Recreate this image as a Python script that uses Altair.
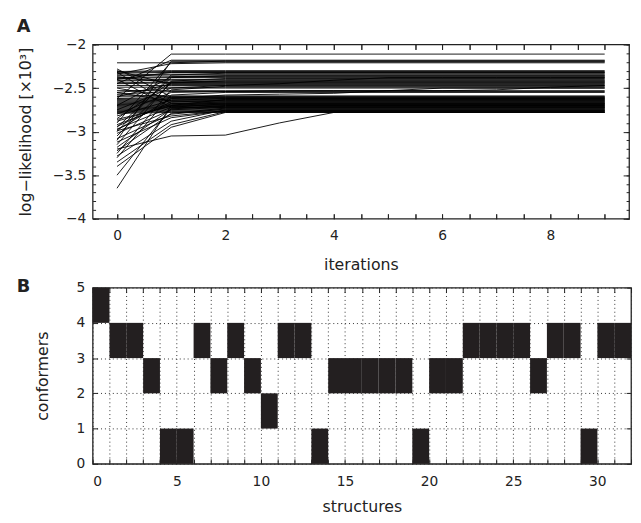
import altair as alt
import pandas as pd

# ---------------- Panel A: log-likelihood traces ----------------
# value at iteration 0, iteration 1, and from iteration 2 onward (flat)
start_vals = [-2.62, -2.45, -2.21, -2.90, -2.34, -2.31, -2.32, -2.33, -3.00, -2.35,
              -2.36, -2.70, -2.38, -2.39, -3.15, -2.41, -2.42, -2.85, -2.44, -2.45,
              -2.60, -2.30, -2.47, -3.25, -2.49, -2.55, -2.95, -2.40, -3.05, -2.37,
              -2.53, -3.30, -2.57, -2.58, -2.60, -2.62, -2.63, -2.64, -2.65, -2.66,
              -2.67, -2.68, -2.69, -2.70, -2.71, -2.72, -2.73, -2.74, -2.75, -2.76,
              -2.77, -2.78, -2.79, -2.88, -2.92, -2.97, -3.02, -3.08, -3.12, -3.18,
              -3.22, -3.28, -3.35, -3.40, -3.50, -3.65, -2.82, -2.86, -2.94, -2.99,
              -2.50, -2.55, -2.28, -2.32, -2.40, -3.10]
iter1_vals = [-2.11, -2.18, -2.21, -2.20, -2.22, -2.30, -2.31, -2.32, -2.35, -2.34,
              -2.35, -2.37, -2.37, -2.38, -2.42, -2.40, -2.41, -2.43, -2.43, -2.44,
              -2.45, -2.46, -2.47, -2.52, -2.49, -2.50, -2.38, -2.32, -2.44, -2.44,
              -2.53, -2.58, -2.54, -2.59, -2.60, -2.61, -2.62, -2.63, -2.64, -2.65,
              -2.66, -2.67, -2.68, -2.69, -2.70, -2.71, -2.72, -2.73, -2.74, -2.75,
              -2.76, -2.77, -2.78, -2.70, -2.68, -2.72, -2.75, -2.80, -2.84, -2.74,
              -2.79, -2.88, -2.92, -2.95, -2.73, -2.70, -2.64, -2.71, -2.66, -2.82,
              -2.61, -2.65, -2.60, -2.68, -2.72, -2.19]
final_vals = [-2.11, -2.18, -2.19, -2.20, -2.21, -2.30, -2.31, -2.32, -2.33, -2.34,
              -2.35, -2.36, -2.37, -2.38, -2.39, -2.40, -2.41, -2.42, -2.43, -2.44,
              -2.45, -2.46, -2.47, -2.48, -2.49, -2.50, -2.36, -2.32, -2.42, -2.44,
              -2.53, -2.55, -2.54, -2.59, -2.60, -2.61, -2.62, -2.63, -2.64, -2.65,
              -2.66, -2.67, -2.68, -2.69, -2.70, -2.71, -2.72, -2.73, -2.74, -2.75,
              -2.76, -2.77, -2.78, -2.63, -2.66, -2.68, -2.72, -2.74, -2.76, -2.70,
              -2.73, -2.75, -2.77, -2.78, -2.71, -2.67, -2.62, -2.69, -2.64, -2.76,
              -2.61, -2.65, -2.60, -2.68, -2.72, -2.19]
# slowly converging runs, values at iterations 0..9
slow_runs = [
    [-3.20, -3.05, -3.04, -2.90, -2.78, -2.78, -2.78, -2.78, -2.78, -2.78],
    [-2.75, -2.50, -2.47, -2.45, -2.41, -2.38, -2.38, -2.38, -2.38, -2.38],
    [-2.98, -2.62, -2.58, -2.57, -2.56, -2.53, -2.50, -2.50, -2.50, -2.50],
    [-2.80, -2.55, -2.54, -2.53, -2.53, -2.53, -2.53, -2.52, -2.49, -2.47],
]

rows = []
for i, (a, b, c) in enumerate(zip(start_vals, iter1_vals, final_vals)):
    for it, v in ((0, a), (1, b), (2, c), (9, c)):
        rows.append({"run": i, "iteration": it, "loglik": v})
for j, vals in enumerate(slow_runs):
    for it, v in enumerate(vals):
        rows.append({"run": 100 + j, "iteration": it, "loglik": v})
df_a = pd.DataFrame(rows)

# ---------------- Panel B: conformer assignment ----------------
structures = list(range(32))
conformers = [4, 3, 3, 2, 0, 0, 3, 2, 3, 2, 1, 3, 3, 0, 2, 2,
              2, 2, 2, 0, 2, 2, 3, 3, 3, 3, 2, 3, 3, 0, 3, 3]
df_b = pd.DataFrame({"structure": structures, "conformer": conformers})

FONT = "DejaVu Sans"
INK = "#222222"

# ---- Panel A chart ----
xsa = alt.Scale(domain=[-0.45, 9.45], nice=False, zero=False)
ysa = alt.Scale(domain=[-4, -2], nice=False, zero=False)
xa_ticks = [k * 0.5 for k in range(19)]
ya_major = [-4, -3.5, -3, -2.5, -2]
ya_minor = [round(-4 + k * 0.1, 1) for k in range(21)]

base_a = alt.Chart(df_a)
lines = base_a.mark_line(color="black", strokeWidth=0.9).encode(
    x=alt.X("iteration:Q", scale=xsa,
            axis=alt.Axis(orient="bottom", values=[0, 2, 4, 6, 8], ticks=False, domain=False,
                          grid=False, labelPadding=10, title="iterations", titlePadding=15,
                          format="d")),
    y=alt.Y("loglik:Q", scale=ysa,
            axis=alt.Axis(orient="left", values=ya_major, ticks=False, domain=False, grid=False,
                          labelPadding=7, title="log−likelihood [×10³]", titlePadding=19,
                          format="~g")),
    detail="run:N",
)


def tick_layer(base, xf, yf, xs, ys, xorient, xvals, xsize, yorient, yvals, ysize):
    return base.mark_point(opacity=0).encode(
        x=alt.X(xf, scale=xs,
                axis=alt.Axis(orient=xorient, offset=-xsize, values=xvals, tickSize=xsize,
                              labels=False, domain=False, grid=False, title=None)),
        y=alt.Y(yf, scale=ys,
                axis=alt.Axis(orient=yorient, offset=-ysize, values=yvals, tickSize=ysize,
                              labels=False, domain=False, grid=False, title=None)),
    )


ta1 = tick_layer(base_a, "iteration:Q", "loglik:Q", xsa, ysa, "bottom", xa_ticks, 5, "left", ya_major, 6)
ta2 = tick_layer(base_a, "iteration:Q", "loglik:Q", xsa, ysa, "top", xa_ticks, 5, "right", ya_major, 6)
ta3 = tick_layer(base_a, "iteration:Q", "loglik:Q", xsa, ysa, "top", xa_ticks, 5, "left", ya_minor, 3)
ta4 = tick_layer(base_a, "iteration:Q", "loglik:Q", xsa, ysa, "bottom", xa_ticks, 5, "right", ya_minor, 3)

chart_a = alt.layer(lines, ta1, ta2, ta3, ta4).resolve_axis(x="independent", y="independent").properties(
    width=545, height=177,
    title=alt.TitleParams("A", anchor="start", frame="group", dx=-77, offset=2, fontSize=18,
                          fontWeight="bold", font=FONT, color=INK),
)

# ---- Panel B chart ----
xsb = alt.Scale(domain=[0, 32], nice=False, zero=False)
ysb = alt.Scale(domain=[0, 5], nice=False, zero=False)
xb_all = list(range(33))
yb_all = list(range(6))

base_b = alt.Chart(df_b).transform_calculate(
    s2="datum.structure + 1", c2="datum.conformer + 1")

rects = base_b.mark_rect(color="#231f20").encode(
    x=alt.X("structure:Q", scale=xsb,
            axis=alt.Axis(orient="bottom", values=[0, 5, 10, 15, 20, 25, 30], ticks=False,
                          domain=False, grid=False, labelPadding=11, title="structures",
                          titlePadding=10, format="d")),
    x2="s2:Q",
    y=alt.Y("conformer:Q", scale=ysb,
            axis=alt.Axis(orient="left", values=yb_all, ticks=False, domain=False, grid=False,
                          labelPadding=8, title="conformers", titlePadding=26, format="d")),
    y2="c2:Q",
)

grid_b = base_b.mark_point(opacity=0).encode(
    x=alt.X("structure:Q", scale=xsb,
            axis=alt.Axis(orient="bottom", values=xb_all, grid=True, gridDash=[1, 3],
                          gridColor="#333333", gridOpacity=1, gridWidth=1, ticks=False,
                          labels=False, domain=False, title=None)),
    y=alt.Y("conformer:Q", scale=ysb,
            axis=alt.Axis(orient="left", values=yb_all, grid=True, gridDash=[1, 3],
                          gridColor="#333333", gridOpacity=1, gridWidth=1, ticks=False,
                          labels=False, domain=False, title=None)),
)

tb1 = tick_layer(base_b, "structure:Q", "conformer:Q", xsb, ysb, "bottom", xb_all, 5, "left", yb_all, 5)
tb2 = tick_layer(base_b, "structure:Q", "conformer:Q", xsb, ysb, "top", xb_all, 5, "right", yb_all, 5)

chart_b = alt.layer(rects, grid_b, tb1, tb2).resolve_axis(x="independent", y="independent").properties(
    width=547, height=179,
    title=alt.TitleParams("B", anchor="start", frame="group", dx=-77, offset=0, dy=15, fontSize=18,
                          fontWeight="bold", font=FONT, color=INK),
)

chart = alt.vconcat(chart_a, chart_b, spacing=3).properties(
    padding={"left": 8, "top": 5, "right": 0, "bottom": 2}
).configure_view(
    stroke=INK, strokeWidth=1.3
).configure_axis(
    labelFont=FONT, titleFont=FONT, labelFontSize=14, titleFontSize=16,
    labelColor=INK, titleColor=INK, titleFontWeight="normal", tickColor=INK, tickWidth=1,
).configure_title(font=FONT)

chart.save("out.html", embed_options={"renderer": "svg", "actions": False})
